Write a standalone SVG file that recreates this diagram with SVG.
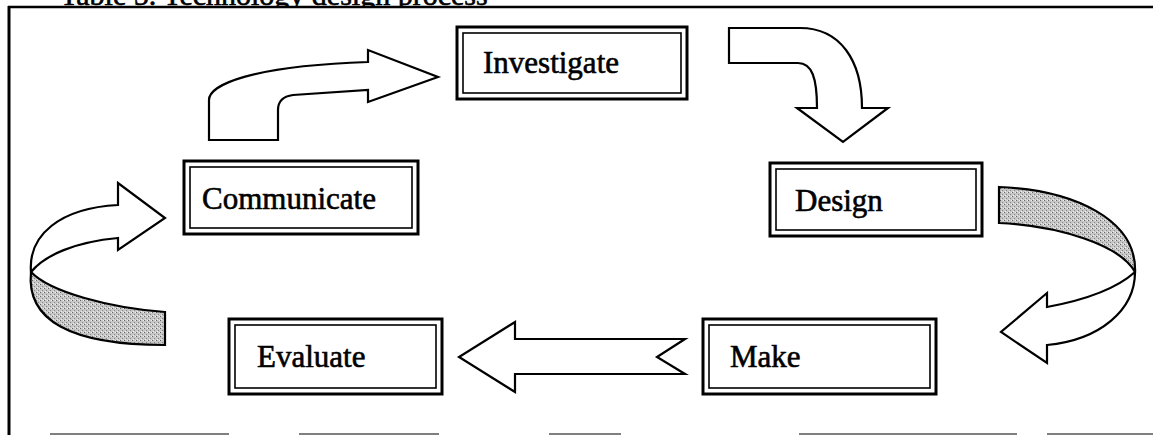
<svg xmlns="http://www.w3.org/2000/svg" width="1153" height="435" viewBox="0 0 1153 435">
<style>
.lbl{font-family:"Liberation Serif","Times New Roman",serif;font-size:31px;fill:#000;stroke:#000;stroke-width:0.6;}
.outer{fill:#fff;stroke:#000;stroke-width:3;}
.inner{fill:none;stroke:#000;stroke-width:1.6;}
.arr{fill:#fff;stroke:#000;stroke-width:2.2;stroke-linejoin:miter;}
.shade{fill:url(#dots);stroke:#000;stroke-width:2.2;}
.frame{stroke:#000;fill:none;}
</style>
<defs>
<pattern id="dots" width="4" height="4" patternUnits="userSpaceOnUse">
<rect width="4" height="4" fill="#c6c6c6"/>
<rect x="0" y="0" width="1" height="1" fill="#666"/>
<rect x="2" y="2" width="1" height="1" fill="#888"/>
<rect x="3" y="0" width="1" height="1" fill="#eee"/>
<rect x="1" y="3" width="1" height="1" fill="#eee"/>
</pattern>
<clipPath id="titleclip"><rect x="0" y="0" width="1153" height="6"/></clipPath>
</defs>
<rect width="1153" height="435" fill="#fff"/>
<g id="frame">
<text class="lbl" x="60" y="5" clip-path="url(#titleclip)" style="font-size:30px">Table 5. Technology design process</text>
<line class="frame" x1="8" y1="7" x2="1153" y2="7" stroke-width="2.5"/>
<line class="frame" x1="9" y1="6" x2="9" y2="435" stroke-width="3"/>
<g stroke="#555" stroke-width="1.5">
<line x1="50" y1="434" x2="229" y2="434"/>
<line x1="299" y1="434" x2="439" y2="434"/>
<line x1="549" y1="434" x2="621" y2="434"/>
<line x1="799" y1="434" x2="1017" y2="434"/>
<line x1="1047" y1="434" x2="1153" y2="434"/>
</g>
</g>
<g id="connectors">
<path class="arr" d="M209,140 L209,100 C209,85 250,66 368,62 L368,50 L438,77 L368,102 L368,90 L293,95 Q278,97 278,110 L278,140 Z"/>
<path class="arr" d="M729,28 L800,28 C840,28 862,60 862,108 L888,108 L843,142 L797,108 L817,108 C817,78 812,63 798,63 L729,63 Z"/>
<path class="shade" d="M999,187 C1075,190 1137,220 1135,272 C1120,245 1060,226 999,223 Z"/>
<path class="arr" d="M1135,272 C1135,310 1100,340 1047,345 L1047,363 L1001,332 L1047,293 L1047,307 C1085,300 1115,290 1135,272 Z"/>
<path class="arr" d="M685,339 L515,339 L515,322 L459,357 L515,392 L515,374 L685,374 L657,357 Z"/>
<path class="shade" d="M165,312 C110,308 50,292 31,272 C26,320 70,345 165,345 Z"/>
<path class="arr" d="M31,272 C28,235 60,208 118,205 L118,183 L165,218 L118,250 L118,238 C75,242 45,255 31,272 Z"/>
</g>
<g id="investigate">
<rect class="outer" x="457" y="27" width="230" height="72"/>
<rect class="inner" x="463" y="33" width="218" height="60"/>
<text class="lbl" x="483" y="73">Investigate</text>
</g>
<g id="communicate">
<rect class="outer" x="184" y="161" width="234" height="73"/>
<rect class="inner" x="190" y="167" width="222" height="61"/>
<text class="lbl" x="202" y="209">Communicate</text>
</g>
<g id="design">
<rect class="outer" x="770" y="163" width="212" height="73"/>
<rect class="inner" x="776" y="169" width="200" height="61"/>
<text class="lbl" x="795" y="211">Design</text>
</g>
<g id="make">
<rect class="outer" x="703" y="319" width="233" height="75"/>
<rect class="inner" x="709" y="325" width="221" height="63"/>
<text class="lbl" x="730" y="367">Make</text>
</g>
<g id="evaluate">
<rect class="outer" x="229" y="319" width="213" height="75"/>
<rect class="inner" x="235" y="325" width="201" height="63"/>
<text class="lbl" x="257" y="367">Evaluate</text>
</g>
</svg>
